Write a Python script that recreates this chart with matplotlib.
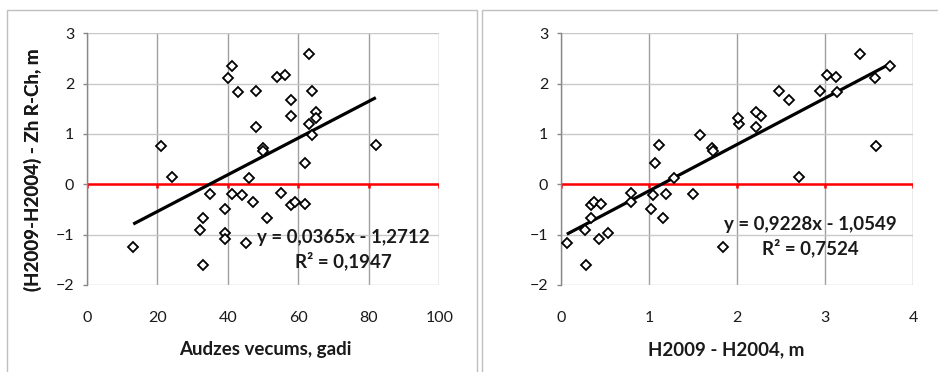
import matplotlib
matplotlib.use("Agg")
import matplotlib.pyplot as plt
from matplotlib.patches import Rectangle
import numpy as np

plt.rcParams['font.family'] = ['Lato', 'DejaVu Sans']

# ---- data ----
age = [13.2, 21.2, 24.1, 32.1, 33.1, 33.1, 35.0, 39.1, 39.1, 39.1,
       40.1, 41.1, 41.1, 43.0, 44.1, 45.1, 46.1, 47.1, 48.1, 48.1,
       50.0, 50.0, 51.1, 54.0, 55.1, 56.1, 58.0, 58.0, 58.0, 59.0,
       62.0, 62.0, 63.0, 63.0, 64.0, 64.0, 65.1, 65.1, 82.0]
dh = [1.84, 3.58, 2.70, 0.28, 0.34, 0.29, 1.20, 1.03, 0.54, 0.43,
      3.57, 3.74, 1.50, 3.13, 1.05, 0.07, 1.28, 0.80, 2.48, 2.21,
      1.72, 1.73, 1.16, 3.12, 0.80, 3.02, 2.59, 2.27, 0.34, 0.38,
      1.07, 0.46, 3.40, 2.02, 2.94, 1.58, 2.22, 2.01, 1.11]
resid = [-1.25, 0.76, 0.15, -0.90, -0.66, -1.60, -0.19, -0.50, -0.97, -1.09,
         2.11, 2.35, -0.19, 1.83, -0.21, -1.16, 0.12, -0.35, 1.86, 1.13,
         0.72, 0.67, -0.66, 2.14, -0.18, 2.18, 1.67, 1.36, -0.42, -0.36,
         0.42, -0.39, 2.58, 1.19, 1.85, 0.97, 1.43, 1.31, 0.79]

fit_left = (0.0365, -1.2712)
fit_right = (0.9228, -1.0549)
eq_left = ["y = 0,0365x - 1,2712", "R² = 0,1947"]
eq_right = ["y = 0,9228x - 1,0549", "R² = 0,7524"]

xticks_left = [0, 20, 40, 60, 80, 100]
xticks_right = [0, 1, 2, 3, 4]
yticks = [-2, -1, 0, 1, 2, 3]
ylabel = "(H2009-H2004) - Zh R-Ch, m"
xlabel_left = "Audzes vecums, gadi"
xlabel_right = "H2009 - H2004, m"

W, H = 938, 372
fig = plt.figure(figsize=(W / 100, H / 100), dpi=100)

# chart-area frames
fig.patches.append(Rectangle((7 / W, -0.1), (477 - 7) / W, (H - 10) / H + 0.1,
                             transform=fig.transFigure, fill=False,
                             edgecolor='#bfbfbf', lw=1))
fig.patches.append(Rectangle((482 / W, -0.1), (W + 5 - 482) / W, (H - 10) / H + 0.1,
                             transform=fig.transFigure, fill=False,
                             edgecolor='#bfbfbf', lw=1))

TXT = '#1a1a1a'


def panel(left_px, x, y, fit, eq, xticks, xlabel, xlabel_x, eq_pos):
    ax = fig.add_axes([left_px / W, (H - 285) / H, 352.6 / W, (285 - 33.3) / H])
    x = np.asarray(x)
    ax.set_xlim(xticks[0], xticks[-1])
    ax.set_ylim(yticks[0], yticks[-1])
    ax.set_xticks(xticks)
    ax.set_yticks(yticks)
    for t in xticks:
        ax.axvline(t, color='#a0a0a0', lw=1.0, zorder=1)
    for t in yticks:
        ax.axhline(t, color='#c8c8c8', lw=1.0, zorder=1)
    for s in ['top', 'right', 'bottom']:
        ax.spines[s].set_visible(False)
    ax.spines['left'].set_color('#888888')
    ax.spines['left'].set_linewidth(1.0)
    ax.tick_params(axis='y', length=3, width=1, color='#888888', pad=6,
                   labelsize=11.5, labelcolor=TXT)
    ax.tick_params(axis='x', length=0, pad=18.5, labelsize=11.5, labelcolor=TXT)
    # red horizontal axis at 0 with small ticks
    ax.axhline(0, color='#ff0000', lw=1.8, zorder=2)
    ax.vlines(xticks, 0, -0.08, color='#ff0000', lw=1.8, zorder=2)
    # points
    ax.plot(x, y, linestyle='none', marker='D', ms=5.2, mfc='white', mec='black',
            mew=1.3, zorder=4)
    # trendline
    xs = np.array([x.min(), x.max()])
    ax.plot(xs, fit[0] * xs + fit[1], color='black', lw=2.3, zorder=3,
            solid_capstyle='butt')
    ax.text(eq_pos[0], eq_pos[1], eq[0] + "\n" + eq[1], transform=ax.transAxes,
            ha='center', va='center', fontsize=13.5, fontweight='bold',
            color=TXT, linespacing=1.33, multialignment='center', zorder=5)
    ax.set_ylabel(ylabel, fontsize=13.5, fontweight='bold', ha='center', va='center',
                  color=TXT)
    ax.yaxis.set_label_coords((33 - left_px) / 352.6, (285 - 170) / 251.7)
    ax.set_xlabel(xlabel, fontsize=13.5, fontweight='bold', color=TXT,
                  ha='center', va='center')
    ax.xaxis.set_label_coords(xlabel_x, (285 - 350) / 251.7)
    return ax


panel(86.7, age, resid, fit_left, eq_left, xticks_left, xlabel_left,
      0.507, ((343 - 86.7) / 352.6, (285 - 249.5) / 251.7))
panel(560.7, dh, resid, fit_right, eq_right, xticks_right, xlabel_right,
      0.469, ((810 - 560.7) / 352.6, (285 - 236.5) / 251.7))

fig.savefig("out.png", dpi=100)
